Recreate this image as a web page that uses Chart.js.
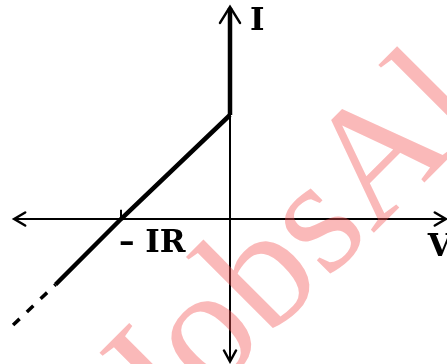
<!DOCTYPE html>
<html><head><meta charset="utf-8">
<script src="https://cdn.jsdelivr.net/npm/chart.js@4"></script>
<style>html,body{margin:0;padding:0;background:#fff}#wrap{width:447px;height:364px;position:relative}</style>
</head><body><div id="wrap"><canvas id="c"></canvas></div>
<script>
const curveV = [0, -1, -1.6];
const curveI = [1, 0, -0.63];
const dashV = [-1.99, -1.6];
const dashI = [-1.02, -0.63];
const riseV = [0, 0];
const riseI = [1, 2.03];
const vAxisV = [-1.98, 1.98];
const vAxisI = [0, 0];
const iAxisV = [0, 0];
const iAxisI = [2.04, -1.37];
const tickV = [-1, -1];
const tickI = [0, 0.09];
const axisLabels = ['V', 'I'];
const tickLabels = ['– IR'];
const watermark = 'JobsAl';

const pts = (xs, ys) => xs.map((x, i) => ({x, y: ys[i]}));
const base = {showLine: true, pointRadius: 0, borderColor: '#000', fill: false, borderCapStyle: 'butt', tension: 0};

const overlay = {
  id: 'overlay',
  afterDatasetsDraw(chart) {
    const {ctx, scales: {x, y}} = chart;
    const ox = x.getPixelForValue(0), oy = y.getPixelForValue(0);
    ctx.save();
    ctx.strokeStyle = '#000';
    ctx.lineWidth = 2.5;
    ctx.lineCap = 'round';
    const chevron = (tx, ty, dx, dy, len, half) => {
      const bx = tx - dx * len, by = ty - dy * len;
      const px = -dy, py = dx;
      ctx.beginPath();
      ctx.moveTo(bx + px * half, by + py * half);
      ctx.lineTo(tx, ty);
      ctx.lineTo(bx - px * half, by - py * half);
      ctx.stroke();
    };
    chevron(x.getPixelForValue(vAxisV[1]), oy, 1, 0, 11, 6.5);
    chevron(x.getPixelForValue(vAxisV[0]), oy, -1, 0, 11, 6.5);
    chevron(ox, y.getPixelForValue(iAxisI[0]), 0, -1, 16, 10);
    chevron(ox, y.getPixelForValue(iAxisI[1]), 0, 1, 11, 6);

    ctx.fillStyle = '#000';
    ctx.textBaseline = 'alphabetic';
    ctx.textAlign = 'left';
    ctx.font = 'bold 31px "DejaVu Serif"';
    ctx.fillText(axisLabels[1], ox + 20, y.getPixelForValue(iAxisI[0]) + 23);
    ctx.fillText(axisLabels[0], x.getPixelForValue(vAxisV[1]) - 18, oy + 37);
    ctx.fillText(tickLabels[0], x.getPixelForValue(tickV[0]) - 2, oy + 33);

    // watermark, rotated -45deg
    ctx.font = '100px "Liberation Serif"';
    const capA = ctx.measureText('A').actualBoundingBoxAscent;
    const size = 100 * 110 / capA;
    ctx.font = size + 'px "Liberation Serif"';
    const pre = ctx.measureText(watermark.slice(0, 4)).width;
    const u = 98 - pre, v = 429;
    ctx.translate((u + v) / Math.SQRT2, (v - u) / Math.SQRT2);
    ctx.rotate(-Math.PI / 4);
    ctx.fillStyle = 'rgba(244,84,84,0.41)';
    ctx.fillText(watermark, 0, 0);
    ctx.restore();
  }
};

new Chart(document.getElementById('c'), {
  type: 'scatter',
  data: {
    datasets: [
      {...base, data: pts(vAxisV, vAxisI), borderWidth: 2},
      {...base, data: pts(iAxisV, iAxisI), borderWidth: 2},
      {...base, data: pts(tickV, tickI), borderWidth: 2},
      {...base, data: pts(riseV, riseI), borderWidth: 4.5},
      {...base, data: pts(curveV, curveI), borderWidth: 4.5},
      {...base, data: pts(dashV, dashI), borderWidth: 3.5, borderDash: [9, 10]}
    ]
  },
  options: {
    responsive: true,
    maintainAspectRatio: false,
    animation: false,
    layout: {padding: 0},
    plugins: {legend: {display: false}, tooltip: {enabled: false}},
    scales: {
      x: {type: 'linear', display: false, min: -230 / 109, max: 217 / 109},
      y: {type: 'linear', display: false, min: -145 / 104, max: 219 / 104}
    }
  },
  plugins: [overlay]
});
</script>
</body></html>
